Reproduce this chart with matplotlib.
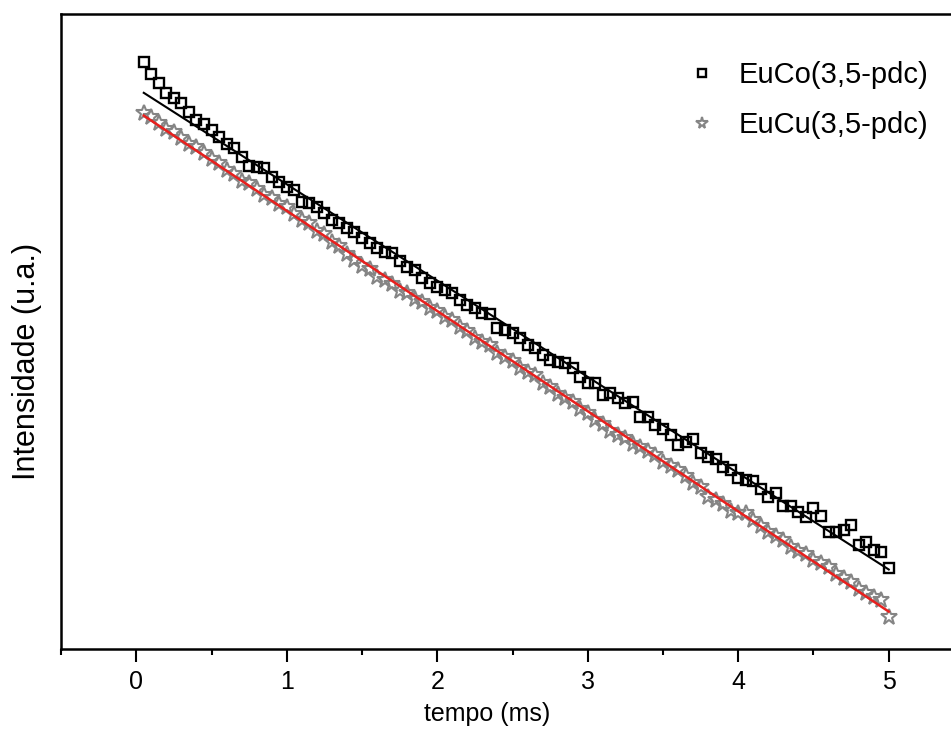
import numpy as np
import matplotlib
matplotlib.use("Agg")
import matplotlib.pyplot as plt
from matplotlib.ticker import MultipleLocator

plt.rcParams['font.family'] = ['Liberation Sans', 'DejaVu Sans']

# time axis (ms)
tempo = [round(0.05 * k, 2) for k in range(1, 101)]

# EuCo(3,5-pdc) - log intensity (arbitrary units)
euco = [5.87, 5.75, 5.66, 5.56, 5.51, 5.46, 5.37, 5.29, 5.25, 5.19,
        5.12, 5.05, 5.01, 4.92, 4.83, 4.82, 4.81, 4.72, 4.67, 4.62,
        4.59, 4.47, 4.46, 4.42, 4.36, 4.29, 4.26, 4.21, 4.17, 4.11,
        4.06, 4.01, 3.97, 3.96, 3.88, 3.82, 3.79, 3.71, 3.66, 3.62,
        3.59, 3.56, 3.49, 3.44, 3.41, 3.36, 3.35, 3.21, 3.19, 3.16,
        3.11, 3.04, 3.01, 2.94, 2.89, 2.87, 2.86, 2.81, 2.72, 2.66,
        2.66, 2.54, 2.56, 2.51, 2.46, 2.47, 2.32, 2.32, 2.24, 2.20,
        2.14, 2.04, 2.07, 2.10, 1.96, 1.92, 1.90, 1.82, 1.79, 1.71,
        1.69, 1.68, 1.60, 1.52, 1.56, 1.43, 1.43, 1.37, 1.32, 1.41,
        1.33, 1.17, 1.17, 1.19, 1.24, 1.04, 1.07, 0.99, 0.97, 0.81]

# EuCu(3,5-pdc) - log intensity (arbitrary units)
eucu = [5.36, 5.32, 5.26, 5.20, 5.17, 5.11, 5.05, 5.02, 4.96, 4.90,
        4.86, 4.79, 4.75, 4.68, 4.66, 4.60, 4.54, 4.51, 4.45, 4.42,
        4.35, 4.29, 4.26, 4.18, 4.15, 4.07, 4.03, 3.95, 3.89, 3.83,
        3.80, 3.72, 3.69, 3.65, 3.58, 3.56, 3.50, 3.47, 3.41, 3.38,
        3.32, 3.29, 3.22, 3.18, 3.11, 3.07, 3.04, 2.96, 2.92, 2.88,
        2.81, 2.77, 2.74, 2.66, 2.62, 2.55, 2.51, 2.47, 2.40, 2.36,
        2.29, 2.25, 2.18, 2.14, 2.11, 2.05, 2.02, 1.98, 1.94, 1.87,
        1.83, 1.79, 1.73, 1.66, 1.62, 1.52, 1.49, 1.45, 1.38, 1.36,
        1.36, 1.29, 1.23, 1.17, 1.13, 1.09, 1.02, 0.98, 0.95, 0.89,
        0.86, 0.82, 0.75, 0.71, 0.67, 0.60, 0.56, 0.52, 0.49, 0.32]

# linear fits (intercept, slope)
fit_euco = [5.61, -0.963]
fit_eucu = [5.384, -1.002]
fit_range = [0.05, 5.0]

labels = ["EuCo(3,5-pdc)", "EuCu(3,5-pdc)"]

fig = plt.figure(figsize=(9.51, 7.42), dpi=100)
ax = fig.add_axes([61 / 951, 93 / 742, 903 / 951, 635 / 742])

ax.plot(tempo, euco, linestyle='none', marker='s', markersize=7.8,
        markerfacecolor='none', markeredgecolor='black', markeredgewidth=1.7,
        label=labels[0])
ax.plot(tempo, eucu, linestyle='none', marker='*', markersize=12,
        markerfacecolor='none', markeredgecolor='#858585', markeredgewidth=1.5,
        label=labels[1])

xf = np.array(fit_range)
ax.plot(xf, fit_euco[0] + fit_euco[1] * xf, color='black', linewidth=1.5)
ax.plot(xf, fit_eucu[0] + fit_eucu[1] * xf, color='#e8201e', linewidth=1.8)

ax.set_xlim(-0.5, 5.5)
ax.set_ylim(0.0, 6.35)
ax.xaxis.set_major_locator(MultipleLocator(1))
ax.xaxis.set_minor_locator(MultipleLocator(0.5))
ax.set_yticks([])
ax.tick_params(axis='x', which='major', direction='out', length=9, width=1.5,
               labelsize=18, pad=6)
ax.tick_params(axis='x', which='minor', direction='out', length=4.5, width=1.5)
for s in ax.spines.values():
    s.set_linewidth(1.8)

ax.set_xlabel("tempo (ms)", fontsize=18)
ax.xaxis.set_label_coords((487 - 61) / 903, -(714 - 649) / 635)
ax.xaxis.label.set_va('center')
ax.set_ylabel("Intensidade (u.a.)", fontsize=22)
ax.yaxis.set_label_coords(-(61 - 27) / 903, (649 - 361) / 635)
ax.yaxis.label.set_va('center')

leg = ax.legend(loc='upper right', bbox_to_anchor=(955 / 951, 1 - 35 / 742),
                bbox_transform=fig.transFigure, frameon=False, fontsize=21,
                markerscale=0.7, handletextpad=0.68, labelspacing=0.75,
                handlelength=1.2, borderpad=0.4)

fig.savefig("out.png", dpi=100)
